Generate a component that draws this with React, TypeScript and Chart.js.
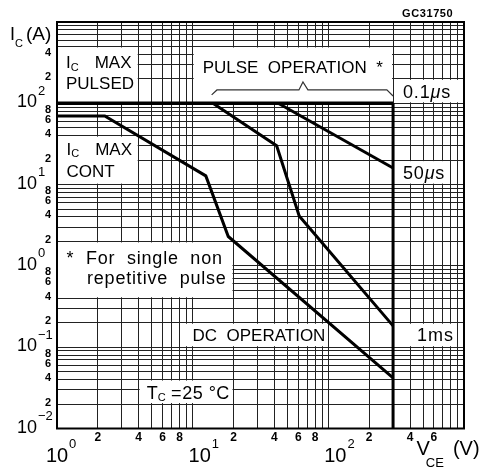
import React, { useEffect, useRef } from "react";
import { Chart, registerables } from "chart.js";

Chart.register(...registerables);

const FONT = '"Liberation Sans", Arial, Helvetica, sans-serif';

// ---- axis ranges and grid ----
const X_RANGE = [1, 1000];
const Y_RANGE = [0.01, 1000];
const GRID_MANTISSAS = [1, 2, 3, 4, 5, 6, 7, 8, 9];
const X_DECADES = [1, 10, 100];
const Y_DECADES = [0.01, 0.1, 1, 10, 100];

// ---- tick labels ----
const X_POWER_LABELS = [0, 1, 2]; // shown as 10^n
const X_MINOR_LABELS = [2, 4, 6, 8, 20, 40, 60, 80, 200, 400, 600];
const Y_POWER_LABELS = [2, 1, 0, -1, -2];
const Y_MINOR_LABELS = [
  400, 200, 80, 60, 40, 20, 8, 6, 4, 2, 0.8, 0.6, 0.4, 0.2, 0.08, 0.06, 0.04, 0.02,
];

// ---- curves (V_CE in V, I_C in A) ----
const PULSED_MAX_V = [1, 300];
const PULSED_MAX_I = [100, 100];
const VCE_MAX_V = [300, 300];
const VCE_MAX_I = [100, 0.01];
const DC_V = [1, 2.25, 12.5, 18.3, 300];
const DC_I = [70, 70, 12.8, 2.3, 0.042];
const MS1_V = [14.1, 41.6, 61, 300];
const MS1_I = [100, 30, 4.1, 0.183];
const US50_V = [42.7, 300];
const US50_I = [100, 16];
const BRACE_V = [13.8, 15.1, 60.7, 65, 70.7, 270, 300];
const BRACE_I = [127, 146, 146, 183, 146, 146, 123];

type Run = {
  t: string;
  size?: number;
  dy?: number;
  dx?: number;
  italic?: boolean;
  bold?: boolean;
  ls?: number;
};

const IC_RUNS: Run[] = [{ t: "I" }, { t: "C", size: 11, dy: 2.5 }, { t: "MAX", dx: 16 }];

const NOTES: { x: number[]; y: number[]; lines: { dx: number; dy: number; runs: Run[] }[] }[] = [
  {
    x: [1, 4],
    y: [100, 500],
    lines: [
      { dx: 9, dy: 22, runs: IC_RUNS },
      { dx: 9, dy: 43, runs: [{ t: "PULSED" }] },
    ],
  },
  {
    x: [10, 300],
    y: [100, 500],
    lines: [{ dx: 10, dy: 27, runs: [{ t: "PULSE  OPERATION  *" }] }],
  },
  {
    x: [300, 1000],
    y: [100, 200],
    lines: [
      {
        dx: 10,
        dy: 19,
        runs: [
          { t: "0.1", size: 18, ls: 0.8 },
          { t: "\u03bc", size: 18, italic: true, ls: 0.8 },
          { t: "s", size: 18 },
        ],
      },
    ],
  },
  {
    x: [1, 4],
    y: [10, 40],
    lines: [
      { dx: 9.5, dy: 19.2, runs: IC_RUNS },
      { dx: 9.5, dy: 41.5, runs: [{ t: "CONT" }] },
    ],
  },
  {
    x: [300, 800],
    y: [10, 20],
    lines: [
      {
        dx: 10,
        dy: 19,
        runs: [
          { t: "50", size: 18, ls: 0.8 },
          { t: "\u03bc", size: 18, italic: true, ls: 0.8 },
          { t: "s", size: 18 },
        ],
      },
    ],
  },
  {
    x: [1, 20],
    y: [0.4, 2],
    lines: [
      { dx: 9.5, dy: 23, runs: [{ t: "*  For  single  non", size: 18, ls: 0.8 }] },
      { dx: 30, dy: 43, runs: [{ t: "repetitive  pulse", size: 18, ls: 0.8 }] },
    ],
  },
  {
    x: [8, 100],
    y: [0.1, 0.2],
    lines: [{ dx: 13, dy: 18.7, runs: [{ t: "DC  OPERATION" }] }],
  },
  {
    x: [300, 900],
    y: [0.1, 0.2],
    lines: [{ dx: 24, dy: 18, runs: [{ t: "1ms", size: 18, ls: 1 }] }],
  },
  {
    x: [4, 20],
    y: [0.02, 0.04],
    lines: [
      {
        dx: 8,
        dy: 19.4,
        runs: [
          { t: "T", size: 18 },
          { t: "C", size: 11, dy: 2.5 },
          { t: " =25 \u00b0C", size: 18, ls: 0.5 },
        ],
      },
    ],
  },
];

function drawRuns(ctx: CanvasRenderingContext2D, x: number, y: number, runs: Run[], defSize = 17) {
  let cx = x;
  ctx.textAlign = "left";
  ctx.textBaseline = "alphabetic";
  for (const r of runs) {
    cx += r.dx || 0;
    ctx.font = `${r.italic ? "italic " : ""}${r.bold ? "bold " : ""}${r.size ?? defSize}px ${FONT}`;
    (ctx as any).letterSpacing = `${r.ls ?? 0}px`;
    ctx.fillText(r.t, cx, y + (r.dy || 0));
    cx += ctx.measureText(r.t).width;
  }
  (ctx as any).letterSpacing = "0px";
}

const gridValues = (decades: number[], max: number) =>
  decades.flatMap((d) => GRID_MANTISSAS.map((m) => m * d)).concat([max]);

const toPts = (xs: number[], ys: number[]) => xs.map((x, i) => ({ x, y: ys[i] }));

const lineDs = (label: string, xs: number[], ys: number[], width: number, color = "#000") => ({
  label,
  data: toPts(xs, ys),
  borderColor: color,
  borderWidth: width,
  pointRadius: 0,
  fill: false,
  tension: 0,
  borderJoinStyle: "miter" as const,
  borderCapStyle: "butt" as const,
});

const overlayPlugin = {
  id: "soaOverlay",
  beforeDatasetsDraw(chart: any) {
    const { ctx, scales } = chart;
    const xs = scales.x;
    const ys = scales.y;
    ctx.save();
    ctx.fillStyle = "#fff";
    for (const n of NOTES) {
      const l = xs.getPixelForValue(n.x[0]);
      const r = xs.getPixelForValue(n.x[1]);
      const t = ys.getPixelForValue(n.y[1]);
      const b = ys.getPixelForValue(n.y[0]);
      ctx.fillRect(l + 1, t + 1, r - l - 2, b - t - 2);
    }
    ctx.restore();
  },
  afterDatasetsDraw(chart: any) {
    const { ctx, scales } = chart;
    const xs = scales.x;
    const ys = scales.y;
    ctx.save();
    ctx.fillStyle = "#000";
    for (const n of NOTES) {
      const l = xs.getPixelForValue(n.x[0]);
      const t = ys.getPixelForValue(n.y[1]);
      for (const line of n.lines) drawRuns(ctx, l + line.dx, t + line.dy, line.runs);
    }
    ctx.restore();
  },
  afterDraw(chart: any) {
    const { ctx, scales, chartArea } = chart;
    const xs = scales.x;
    const ys = scales.y;
    ctx.save();
    // frame
    ctx.strokeStyle = "#000";
    ctx.lineWidth = 2;
    ctx.strokeRect(chartArea.left, chartArea.top, chartArea.right - chartArea.left, chartArea.bottom - chartArea.top);

    ctx.fillStyle = "#000";
    // y power labels
    for (const p of Y_POWER_LABELS) {
      const py = ys.getPixelForValue(Math.pow(10, p));
      ctx.font = `18px ${FONT}`;
      ctx.textAlign = "right";
      ctx.textBaseline = "alphabetic";
      ctx.fillText("10", chartArea.left - 20, py + 4);
      ctx.font = `13px ${FONT}`;
      ctx.textAlign = "left";
      ctx.fillText(p < 0 ? "\u2212" + Math.abs(p) : String(p), chartArea.left - 19, py - 8.5);
    }
    // y minor labels
    ctx.font = `bold 11px ${FONT}`;
    ctx.textAlign = "right";
    for (const v of Y_MINOR_LABELS) {
      const py = ys.getPixelForValue(v);
      const m = Math.round(v / Math.pow(10, Math.floor(Math.log10(v) + 1e-9)));
      ctx.fillText(String(m), chartArea.left - 6, py + 1.5);
    }
    // x minor labels
    ctx.font = `bold 12px ${FONT}`;
    ctx.textAlign = "center";
    for (const v of X_MINOR_LABELS) {
      const px = xs.getPixelForValue(v);
      const m = Math.round(v / Math.pow(10, Math.floor(Math.log10(v) + 1e-9)));
      ctx.fillText(String(m), px, chartArea.bottom + 12.5);
    }
    // x power labels
    for (const p of X_POWER_LABELS) {
      const v = Math.pow(10, p);
      const px = xs.getPixelForValue(v);
      ctx.font = `20px ${FONT}`;
      const w = ctx.measureText("10").width;
      const cx = v === X_RANGE[0] ? px : px + 7;
      ctx.textAlign = "left";
      ctx.fillText("10", cx - w / 2, chartArea.bottom + 33.5);
      ctx.font = `13px ${FONT}`;
      ctx.fillText(String(p), cx + w / 2 + 1, chartArea.bottom + 19.5);
    }
    // axis titles
    drawRuns(ctx, chartArea.right - 47.5, chartArea.bottom + 26.5, [
      { t: "V", size: 20 },
      { t: "CE", size: 13, dy: 11.5, dx: -4 },
      { t: "(V)", size: 20, dx: 9 },
    ]);
    drawRuns(ctx, chartArea.left - 47, 39.5, [
      { t: "I", size: 18 },
      { t: "C", size: 11, dy: 7 },
      { t: "(A)", size: 19, dx: 3 },
    ]);
    // figure code
    drawRuns(ctx, chartArea.right - 62, 16.5, [{ t: "GC31750", size: 11, bold: true, ls: 0.6 }]);
    ctx.restore();
  },
};

export default function App() {
  const ref = useRef<HTMLCanvasElement>(null);

  useEffect(() => {
    const canvas = ref.current;
    if (!canvas) return;
    const xGrid = gridValues(X_DECADES, X_RANGE[1]);
    const yGrid = gridValues(Y_DECADES, Y_RANGE[1]);
    const chart = new Chart(canvas, {
      type: "line",
      data: {
        datasets: [
          lineDs("IC max pulsed / 0.1us", PULSED_MAX_V, PULSED_MAX_I, 3.5),
          lineDs("VCE max", VCE_MAX_V, VCE_MAX_I, 3),
          lineDs("DC", DC_V, DC_I, 3),
          lineDs("1ms", MS1_V, MS1_I, 3),
          lineDs("50us", US50_V, US50_I, 3),
          lineDs("brace", BRACE_V, BRACE_I, 1.2, "#333"),
        ] as any,
      },
      options: {
        responsive: false,
        animation: false,
        events: [],
        layout: { padding: { left: 57, top: 22, right: 16, bottom: 44.5 } },
        plugins: { legend: { display: false }, tooltip: { enabled: false } },
        scales: {
          x: {
            type: "logarithmic",
            min: X_RANGE[0],
            max: X_RANGE[1],
            afterBuildTicks: (axis: any) => {
              axis.ticks = xGrid.map((v) => ({ value: v }));
            },
            ticks: { display: false },
            grid: { color: "#222", lineWidth: 1, drawTicks: false },
            border: { display: false },
          },
          y: {
            type: "logarithmic",
            min: Y_RANGE[0],
            max: Y_RANGE[1],
            afterBuildTicks: (axis: any) => {
              axis.ticks = yGrid.map((v) => ({ value: v }));
            },
            ticks: { display: false },
            grid: { color: "#222", lineWidth: 1, drawTicks: false },
            border: { display: false },
          },
        },
      } as any,
      plugins: [overlayPlugin],
    });
    return () => chart.destroy();
  }, []);

  return (
    <div style={{ position: "fixed", left: 0, top: 0, width: 480, height: 473, background: "#fff" }}>
      <canvas ref={ref} width={480} height={473} style={{ width: 480, height: 473, display: "block" }} />
    </div>
  );
}
